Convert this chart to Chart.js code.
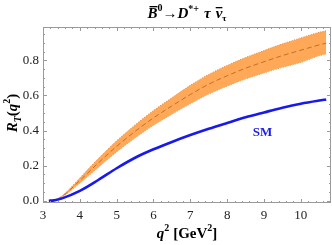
<!DOCTYPE html>
<html>
<head>
<meta charset="utf-8">
<script src="https://cdn.jsdelivr.net/npm/chart.js@4/dist/chart.umd.min.js"></script>
<style>
  body { margin: 0; background: #fff; }
  canvas { display: block; }
</style>
</head>
<body>
<canvas id="myChart" width="332" height="245"></canvas>
<script>
// q^2 grid (GeV^2)
const q2 = [3.16, 3.3, 3.5, 4, 4.5, 5, 5.5, 6, 6.5, 7, 7.5, 8, 8.5, 9, 9.5, 10, 10.5, 10.69];
// standard model curve
const smVals = [0, 0.002, 0.012, 0.056, 0.118, 0.185, 0.245, 0.293, 0.335, 0.374, 0.41, 0.443, 0.475, 0.503, 0.53, 0.553, 0.571, 0.577];
// orange band: central (dashed), upper and lower edges
const centerVals = [0, 0.004, 0.022, 0.115, 0.215, 0.31, 0.395, 0.472, 0.54, 0.605, 0.664, 0.712, 0.755, 0.792, 0.827, 0.858, 0.888, 0.898];
const upperVals = [0, 0.005, 0.025, 0.13, 0.24, 0.342, 0.432, 0.514, 0.587, 0.658, 0.72, 0.771, 0.816, 0.856, 0.894, 0.928, 0.96, 0.969];
const lowerVals = [0, 0.003, 0.019, 0.1, 0.19, 0.278, 0.358, 0.43, 0.493, 0.552, 0.608, 0.653, 0.694, 0.728, 0.76, 0.788, 0.826, 0.836];

const xTicks = [3, 4, 5, 6, 7, 8, 9, 10];
const yTicks = [0, 0.2, 0.4, 0.6, 0.8];

function pts(ys) {
  return q2.map((x, i) => ({x: x, y: ys[i]}));
}

const serif = "'Liberation Serif', 'DejaVu Serif', serif";

// draws a run of text pieces (font, dy, overline)
function drawRun(ctx, parts, x, y, align) {
  let total = 0;
  parts.forEach(p => { ctx.font = p.font; total += ctx.measureText(p.t).width + (p.gap || 0); });
  let cx = align === 'center' ? x - total / 2 : x;
  parts.forEach(p => {
    ctx.font = p.font;
    const w = ctx.measureText(p.t).width;
    ctx.fillText(p.t, cx, y + (p.dy || 0));
    if (p.over) {
      ctx.fillRect(cx + p.over[0], y + (p.dy || 0) - p.over[1], w - p.over[0] + (p.over[2] || 0), 1.3);
    }
    cx += w + (p.gap || 0);
  });
}

const framePlugin = {
  id: 'frame',
  afterDatasetsDraw(chart) {
    const ctx = chart.ctx;
    const a = chart.chartArea;
    const xs = chart.scales.x, ys = chart.scales.y;
    ctx.save();
    ctx.strokeStyle = '#9a9a9a';
    ctx.lineWidth = 1;
    ctx.strokeRect(a.left + 0.5, a.top + 0.5, a.right - a.left - 1, a.bottom - a.top - 1);
    ctx.beginPath();
    for (let v = 3; v <= 10.8; v += 0.2) {
      const major = Math.abs(v - Math.round(v)) < 1e-6;
      const px = Math.round(xs.getPixelForValue(v)) + 0.5;
      const len = major ? 4 : 2;
      ctx.moveTo(px, a.bottom); ctx.lineTo(px, a.bottom - len);
      ctx.moveTo(px, a.top); ctx.lineTo(px, a.top + len);
    }
    for (let v = 0; v <= 0.99; v += 0.05) {
      const major = Math.abs(v * 5 - Math.round(v * 5)) < 1e-6;
      const py = Math.round(ys.getPixelForValue(v)) + 0.5;
      const len = major ? 4 : 2;
      ctx.moveTo(a.left, py); ctx.lineTo(a.left + len, py);
      ctx.moveTo(a.right, py); ctx.lineTo(a.right - len, py);
    }
    ctx.stroke();

    // texts
    ctx.fillStyle = '#000';
    ctx.textBaseline = 'alphabetic';
    ctx.textAlign = 'left';
    const bi = 'italic bold 15px ' + serif, b = 'bold 15px ' + serif;
    const bs = 'bold 10px ' + serif;
    const cx = (a.left + a.right) / 2;
    drawRun(ctx, [
      {t: 'B', font: bi, over: [2, 12, 0]},
      {t: '0', font: bs, dy: -7},
      {t: '\u2192', font: b},
      {t: 'D', font: bi},
      {t: '*+', font: bs, dy: -6, gap: 5},
      {t: '\u03C4', font: bi, gap: 5},
      {t: '\u03BD', font: bi, over: [0, 11, 0]},
      {t: '\u03C4', font: 'bold 9px ' + serif, dy: 3}
    ], cx, 18, 'center');

    // x label
    drawRun(ctx, [
      {t: 'q', font: bi},
      {t: '2', font: bs, dy: -7, gap: 4},
      {t: '[GeV', font: b},
      {t: '2', font: bs, dy: -7},
      {t: ']', font: b}
    ], cx, 238, 'center');

    // y label
    ctx.save();
    ctx.translate(17, 113);
    ctx.rotate(-Math.PI / 2);
    drawRun(ctx, [
      {t: 'R', font: bi},
      {t: 'T', font: 'italic bold 10px ' + serif, dy: 4},
      {t: '(', font: b},
      {t: 'q', font: bi},
      {t: '2', font: bs, dy: -7},
      {t: ')', font: b}
    ], 0, 0, 'center');
    ctx.restore();

    // SM label
    ctx.fillStyle = '#1a1aee';
    ctx.font = 'bold 13px ' + serif;
    ctx.textAlign = 'center';
    ctx.fillText('SM', xs.getPixelForValue(8.96), ys.getPixelForValue(0.368));
    ctx.restore();
  }
};

// datasets are drawn last-index first, so the band sits at the end
const data = {
  datasets: [
    {
      label: 'SM',
      data: pts(smVals),
      borderColor: '#1818f0',
      borderWidth: 2.6,
      fill: false,
      pointRadius: 0,
      cubicInterpolationMode: 'monotone'
    },
    {
      label: 'central',
      data: pts(centerVals),
      borderColor: '#c0702c',
      borderWidth: 1,
      borderDash: [5, 3],
      fill: false,
      pointRadius: 0,
      cubicInterpolationMode: 'monotone'
    },
    {
      label: 'upper',
      data: pts(upperVals),
      borderColor: '#e8883a',
      borderWidth: 1,
      borderDash: [1, 1.5],
      backgroundColor: 'rgba(255, 168, 88, 1)',
      fill: '+1',
      pointRadius: 0,
      cubicInterpolationMode: 'monotone'
    },
    {
      label: 'lower',
      data: pts(lowerVals),
      borderColor: '#e8883a',
      borderWidth: 1,
      borderDash: [1, 1.5],
      fill: false,
      pointRadius: 0,
      cubicInterpolationMode: 'monotone'
    }
  ]
};

const config = {
  type: 'line',
  data: data,
  options: {
    responsive: false,
    animation: false,
    layout: { padding: { top: 27, right: 1, left: 0, bottom: 0 } },
    plugins: {
      legend: { display: false },
      tooltip: { enabled: false }
    },
    scales: {
      x: {
        type: 'linear',
        min: 3,
        max: 10.82,
        afterFit: s => { s.height = 42; },
        afterBuildTicks: s => { s.ticks = xTicks.map(v => ({value: v})); },
        grid: { display: false, drawTicks: false },
        border: { display: false },
        ticks: {
          padding: 5,
          color: '#222',
          font: { family: serif, size: 13 },
          callback: v => String(v)
        }
      },
      y: {
        min: -0.013,
        max: 0.99,
        afterFit: s => { s.width = 43; },
        afterBuildTicks: s => { s.ticks = yTicks.map(v => ({value: v})); },
        grid: { display: false, drawTicks: false },
        border: { display: false },
        ticks: {
          padding: 4,
          color: '#222',
          font: { family: serif, size: 13 },
          callback: v => v.toFixed(1)
        }
      }
    }
  },
  plugins: [framePlugin]
};

const myChart = new Chart(document.getElementById('myChart'), config);
</script>
</body>
</html>
